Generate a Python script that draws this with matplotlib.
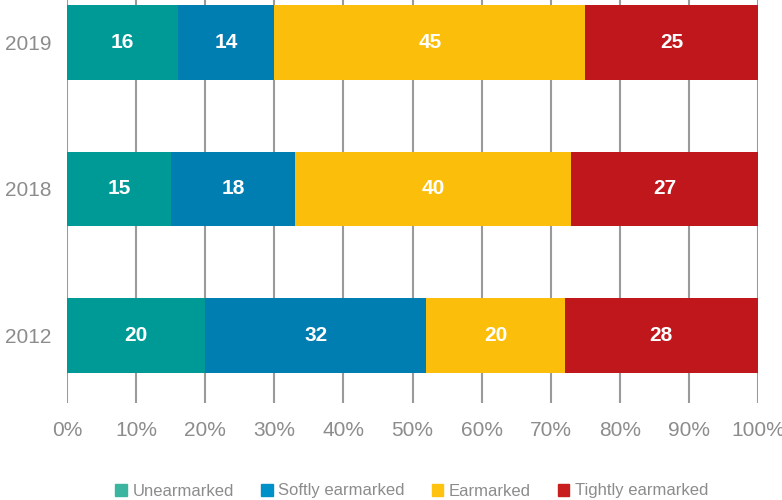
import matplotlib.pyplot as plt
from matplotlib.patches import Patch
import numpy as np

plt.rcParams['font.family'] = ['Liberation Sans', 'DejaVu Sans']

# data
years = ["2012", "2018", "2019"]
series = ["Unearmarked", "Softly earmarked", "Earmarked", "Tightly earmarked"]
unearmarked = [20, 15, 16]
softly = [32, 18, 14]
earmarked = [20, 40, 45]
tightly = [28, 27, 25]
colors = ["#009A96", "#007DB1", "#FBBF0B", "#BF171C"]
legend_colors = ["#3BB5A0", "#0090C8", "#FFC20E", "#C81E1E"]
xticks = [0, 10, 20, 30, 40, 50, 60, 70, 80, 90, 100]

fig = plt.figure(figsize=(7.82, 5.0), dpi=100)
ax = fig.add_axes([67/782, 97/500, (758-67)/782, 428/500])

y = np.arange(len(years))
left = np.zeros(len(years))
for vals, col in zip([unearmarked, softly, earmarked, tightly], colors):
    bars = ax.barh(y, vals, left=left, height=0.51, color=col, zorder=3)
    ax.bar_label(bars, labels=[str(v) for v in vals], label_type='center',
                 color='white', fontsize=15, fontweight='bold')
    left = left + np.array(vals)

ax.set_xlim(0, 100)
ax.set_ylim(-0.46, 2.46)
ax.set_xticks(xticks)
ax.set_xticklabels([f"{t}%" for t in xticks])
ax.set_yticks(y)
ax.set_yticklabels(years)
ax.xaxis.grid(True, color="#9a9a9a", linewidth=1.5, zorder=0)
ax.tick_params(axis='x', length=0, pad=13, labelsize=15, labelcolor="#8c8c8c")
ax.tick_params(axis='y', length=0, pad=11, labelsize=15, labelcolor="#8c8c8c")
for s in ax.spines.values():
    s.set_visible(False)

handles = [Patch(color=c, label=l) for c, l in zip(legend_colors, series)]
fig.legend(handles=handles, loc='center', bbox_to_anchor=(412/782, 0.018), ncol=4,
           frameon=False, fontsize=12, labelcolor="#8c8c8c",
           handlelength=0.7, handleheight=0.7, handletextpad=0.35, columnspacing=1.6)

plt.savefig("out.png", dpi=100)
